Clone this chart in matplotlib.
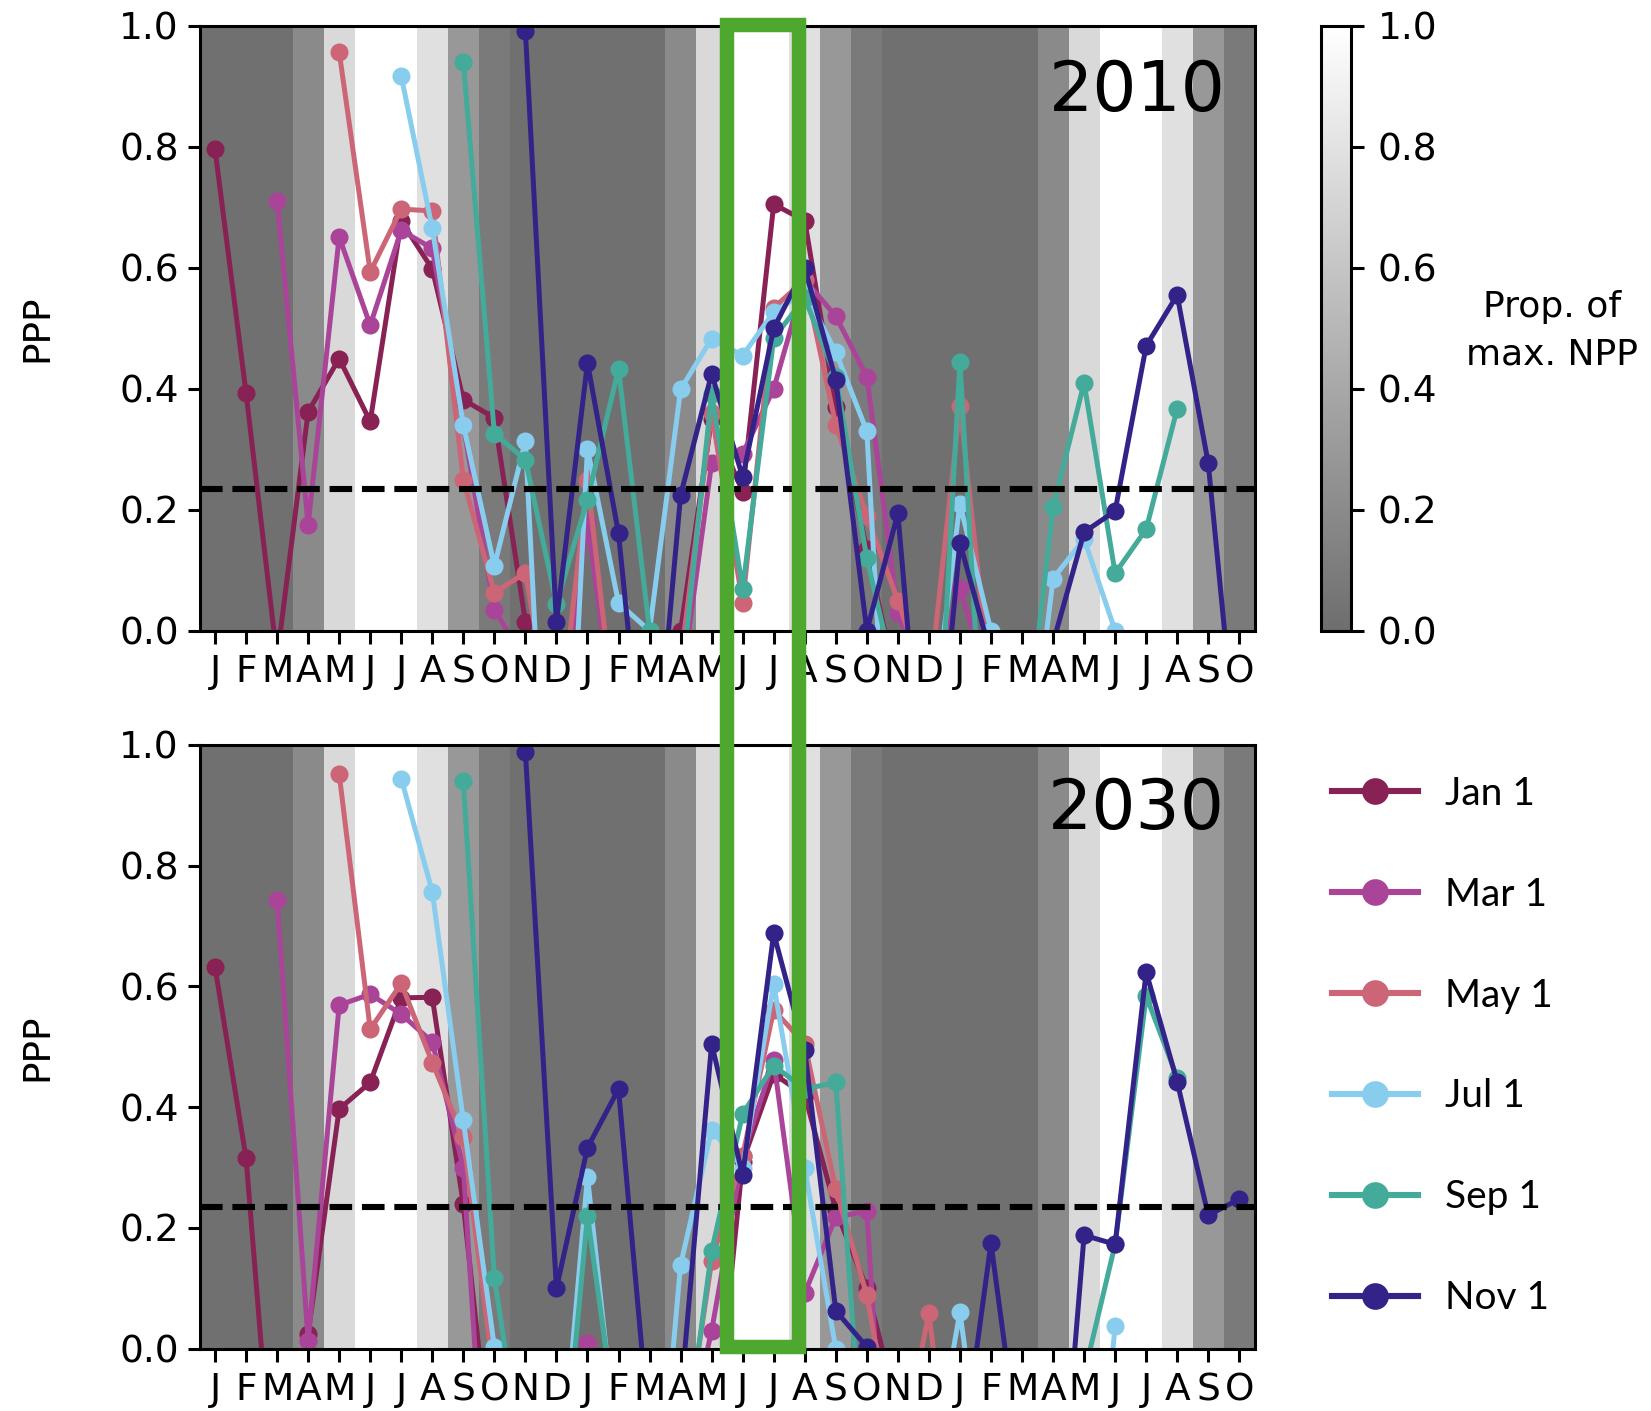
import numpy as np
import matplotlib
matplotlib.use("Agg")
import matplotlib.pyplot as plt
from matplotlib.colors import LinearSegmentedColormap
from matplotlib.lines import Line2D
from matplotlib.patches import Rectangle

# month tick labels (Jan of year 1 to Oct of year 3)
month_labels = list("JFMAMJJASOND") * 2 + list("JFMAMJJASO")
# proportion of max NPP for each calendar month (background bands)
npp_month = [0.014, 0.014, 0.014, 0.193, 0.738, 1.0, 1.0, 0.786, 0.29, 0.083, 0.014, 0.014]
threshold = 0.234

series_names = ["Jan 1", "Mar 1", "May 1", "Jul 1", "Sep 1", "Nov 1"]
series_start = [0, 2, 4, 6, 8, 10]
series_colors = ["#882255", "#AA4499", "#CC6677", "#88CCEE", "#44AA99", "#332288"]

# 2010
jan_2010 = [0.796, 0.393, -0.045, 0.362, 0.450, 0.346, 0.677, 0.598, 0.382, 0.352, 0.015, -0.3,
            -0.3, -0.3, -0.2, 0.0, 0.35, 0.23, 0.705, 0.678, 0.37, 0.135, -0.1, -0.2]
mar_2010 = [0.711, 0.175, 0.651, 0.505, 0.662, 0.632, 0.34, 0.035, -0.05, -0.2, 0.18, -0.2,
            -0.3, -0.1, 0.277, 0.293, 0.40, 0.58, 0.52, 0.42, 0.03, -0.1, 0.07, -0.1]
may_2010 = [0.957, 0.593, 0.697, 0.694, 0.25, 0.063, 0.096, -0.2, 0.25, -0.2, -0.2, -0.05,
            0.36, 0.046, 0.534, 0.58, 0.34, 0.19, 0.05, -0.1, 0.372, -0.1, -0.3, -0.3]
jul_2010 = [0.917, 0.665, 0.34, 0.107, 0.314, -0.7, 0.301, 0.046, 0.0, 0.399, 0.483, 0.455,
            0.527, 0.56, 0.461, 0.33, -0.6, -0.2, 0.21, 0.0, -0.34, 0.086, 0.152, 0.0]
sep_2010 = [0.94, 0.326, 0.283, 0.045, 0.217, 0.433, 0.0, -0.1, 0.392, 0.069, 0.484, 0.55,
            0.42, 0.12, -0.1, -0.5, 0.445, -0.45, -0.24, 0.204, 0.41, 0.095, 0.168, 0.367]
nov_2010 = [0.991, 0.014, 0.443, 0.161, -0.35, 0.224, 0.425, 0.254, 0.5, 0.6, 0.415, 0.0,
            0.194, -0.4, 0.145, -0.04, -0.3, -0.02, 0.163, 0.198, 0.471, 0.555, 0.277, -0.25]

# 2030
jan_2030 = [0.632, 0.316, -0.32, 0.025, 0.397, 0.441, 0.581, 0.582, 0.239, -0.24, -0.3, -0.3,
            -0.3, -0.3, -0.3, -0.3, -0.2, 0.31, 0.455, 0.42, 0.23, 0.1, -0.1, -0.2]
mar_2030 = [0.743, 0.013, 0.569, 0.587, 0.554, 0.508, 0.3, -0.5, -0.3, -0.3, 0.01, -0.3,
            -0.3, -0.2, 0.03, 0.32, 0.478, 0.092, 0.218, 0.228, -0.6, -0.3, -0.3, -0.3]
may_2030 = [0.952, 0.529, 0.605, 0.474, 0.35, -0.05, -0.3, -0.3, -0.3, -0.3, -0.3, -0.2,
            0.145, 0.32, 0.561, 0.505, 0.264, 0.089, -0.2, 0.059, -0.36, -0.3, -0.3, -0.3]
jul_2030 = [0.944, 0.757, 0.378, 0.003, -0.3, -0.3, 0.285, -0.19, -0.44, 0.139, 0.363, 0.3,
            0.604, 0.3, 0.0, -0.3, -0.3, -0.23, 0.061, -0.32, -0.3, -0.3, -0.5, 0.038]
sep_2030 = [0.94, 0.117, -0.22, -0.33, 0.22, -0.15, -0.3, -0.22, 0.162, 0.389, 0.469, 0.43,
            0.441, -0.29, -0.3, -0.3, -0.3, -0.3, -0.3, -0.3, -0.043, 0.173, 0.584, 0.449]
nov_2030 = [0.988, 0.100, 0.333, 0.43, -0.143, -0.082, 0.505, 0.287, 0.688, 0.495, 0.063, 0.003,
            -0.1, -0.2, -0.205, 0.175, -0.21, -0.44, 0.188, 0.173, 0.624, 0.442, 0.221, 0.248]

panels = {
    "2010": [jan_2010, mar_2010, may_2010, jul_2010, sep_2010, nov_2010],
    "2030": [jan_2030, mar_2030, may_2030, jul_2030, sep_2030, nov_2030],
}

plt.rcParams["font.family"] = "DejaVu Sans"
plt.rcParams["font.size"] = 13.5

cmap = LinearSegmentedColormap.from_list("npp", ["#6e6e6e", "#ffffff"])
n_months = len(month_labels)
npp_bands = np.array([npp_month[i % 12] for i in range(n_months)])[None, :]
x_edges = np.arange(n_months + 1) - 0.5

W, H = 1651, 1411
fig = plt.figure(figsize=(W / 200, H / 200), dpi=200)

left = 199.5 / W
width = 1055.3 / W
axes_boxes = [(1 - 630.8 / H, 605 / H), (1 - 1348.8 / H, 604 / H)]

mesh = None
for (year, data), (b, h) in zip(panels.items(), axes_boxes):
    ax = fig.add_axes([left, b, width, h])
    mesh = ax.pcolormesh(x_edges, [0, 1], npp_bands, cmap=cmap, vmin=0, vmax=1, zorder=0)
    ax.axhline(threshold, color="k", ls="--", lw=2.2, zorder=3)
    for vals, start, col in zip(data, series_start, series_colors):
        xs = np.arange(start, start + len(vals))
        ax.plot(xs, vals, "-o", color=col, lw=1.8, ms=5.5, zorder=2)
    ax.set_xlim(-0.5, n_months - 0.5)
    ax.set_ylim(0, 1)
    ax.set_xticks(range(n_months))
    ax.set_xticklabels(month_labels)
    ax.set_yticks(np.arange(0, 1.01, 0.2))
    ax.set_yticklabels([f"{v:.1f}" for v in np.arange(0, 1.01, 0.2)])
    ax.tick_params(length=4.5, width=1.1, pad=3, labelsize=13.5)
    ax.tick_params(axis="x", pad=4)
    for s in ax.spines.values():
        s.set_linewidth(1.1)
    ax.text(0.972, 0.86, year, transform=ax.transAxes, ha="right", va="baseline",
            fontsize=25, zorder=5)
    fig.text(37 / W, b + h / 2, "PPP", rotation=90, ha="center", va="center", fontsize=13.5)

# colorbar
cax = fig.add_axes([1321 / W, axes_boxes[0][0], 30 / W, axes_boxes[0][1]])
cb = fig.colorbar(mesh, cax=cax)
cb.set_ticks(np.arange(0, 1.01, 0.2))
cb.set_ticklabels([f"{v:.1f}" for v in np.arange(0, 1.01, 0.2)])
cb.outline.set_linewidth(1.1)
cax.tick_params(length=4.5, width=1.1, pad=5, labelsize=13.5)
fig.text(1552 / W, 1 - 331 / H, "Prop. of\nmax. NPP", ha="center", va="center",
         multialignment="center", fontsize=13, linespacing=1.5)

# legend
handles = [Line2D([], [], color=c, marker="o", lw=2.2, ms=8.6) for c in series_colors]
fig.legend(handles, series_names, loc="center left", bbox_to_anchor=(1332 / W, 1 - 1046 / H),
           frameon=False, prop={"family": "Lato", "size": 14}, handlelength=2.2,
           handletextpad=0.7, labelspacing=1.67, borderpad=0, borderaxespad=0)

# green highlight box spanning both panels
x0, x1 = 727 / W, 799 / W
y0, y1 = 1 - 1347 / H, 1 - 24.5 / H
fig.patches.append(Rectangle((x0, y0), x1 - x0, y1 - y0, transform=fig.transFigure,
                             fill=False, edgecolor="#4ea72e", lw=5.2, zorder=10))

fig.savefig("out.png", dpi=200)
